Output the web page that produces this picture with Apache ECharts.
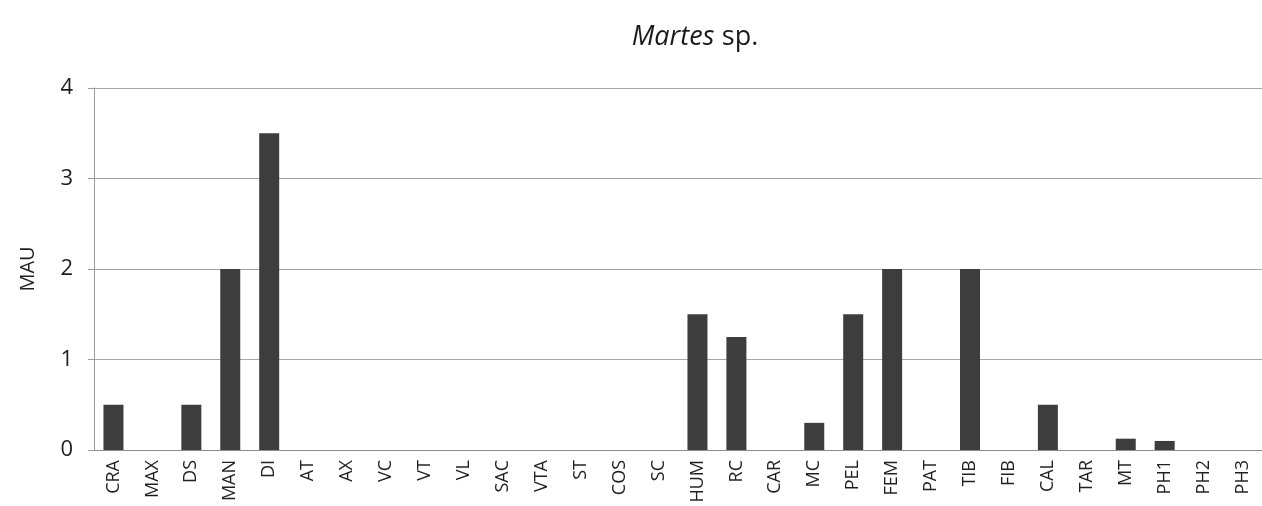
<!DOCTYPE html>
<html>
<head>
<meta charset="utf-8">
<script src="https://cdn.jsdelivr.net/npm/echarts@6/dist/echarts.min.js"></script>
<style>
  html, body { margin: 0; padding: 0; background: #ffffff; }
  #chart { width: 1262px; height: 506px; }
</style>
</head>
<body>
<div id="chart"></div>
<script>
// Skeletal elements (anatomical units)
const elements = ['CRA', 'MAX', 'DS', 'MAN', 'DI', 'AT', 'AX', 'VC', 'VT', 'VL',
  'SAC', 'VTA', 'ST', 'COS', 'SC', 'HUM', 'RC', 'CAR', 'MC', 'PEL',
  'FEM', 'PAT', 'TIB', 'FIB', 'CAL', 'TAR', 'MT', 'PH1', 'PH2', 'PH3'];

// Minimum animal units per element
const mauValues = [0.5, 0, 0.5, 2, 3.5, 0, 0, 0, 0, 0,
  0, 0, 0, 0, 0, 1.5, 1.25, 0, 0.3, 1.5,
  2, 0, 2, 0, 0.5, 0, 0.125, 0.1, 0, 0];

const yTicks = [0, 1, 2, 3, 4];

const chart = echarts.init(document.getElementById('chart'), null, { renderer: 'canvas' });

const fontFamily = '"Open Sans", "Noto Sans", sans-serif';

chart.setOption({
  animation: false,
  backgroundColor: '#ffffff',
  title: {
    text: '{it|Martes} {rm|sp.}',
    left: 690,
    textAlign: 'center',
    top: 19,
    textStyle: {
      fontWeight: 'normal',
      fontSize: 27,
      rich: {
        it: { fontFamily: fontFamily, fontStyle: 'italic', fontWeight: 'normal', fontSize: 27, color: '#1a1a1a' },
        rm: { fontFamily: fontFamily, fontWeight: 'normal', fontSize: 27, color: '#1a1a1a' }
      }
    }
  },
  grid: {
    left: 94,
    right: -10,
    top: 88,
    bottom: 56,
    containLabel: false
  },
  xAxis: {
    type: 'category',
    data: elements,
    axisLine: { show: true, lineStyle: { color: '#8c8c8c', width: 1 } },
    axisTick: { show: false },
    axisLabel: {
      rotate: 90,
      margin: 10,
      interval: 0,
      fontFamily: fontFamily,
      fontSize: 18,
      color: '#1f1f1f'
    }
  },
  yAxis: {
    type: 'value',
    min: yTicks[0],
    max: yTicks[yTicks.length - 1],
    interval: 1,
    name: 'MAU',
    nameLocation: 'middle',
    nameGap: 56,
    nameRotate: 90,
    nameTextStyle: { fontFamily: fontFamily, fontSize: 20, color: '#1f1f1f' },
    axisLine: { show: true, lineStyle: { color: '#9a9a9a', width: 1 } },
    axisTick: { show: true, length: 6, inside: false, lineStyle: { color: '#9a9a9a' } },
    axisLabel: {
      margin: 21,
      fontFamily: fontFamily,
      fontSize: 22,
      color: '#1f1f1f',
      formatter: v => yTicks.includes(v) ? String(v) : ''
    },
    splitLine: { show: true, lineStyle: { color: '#a6a6a6', width: 1 } }
  },
  series: [{
    type: 'bar',
    data: mauValues,
    barWidth: 20,
    itemStyle: { color: '#3d3d3d' }
  }]
});
</script>
</body>
</html>
